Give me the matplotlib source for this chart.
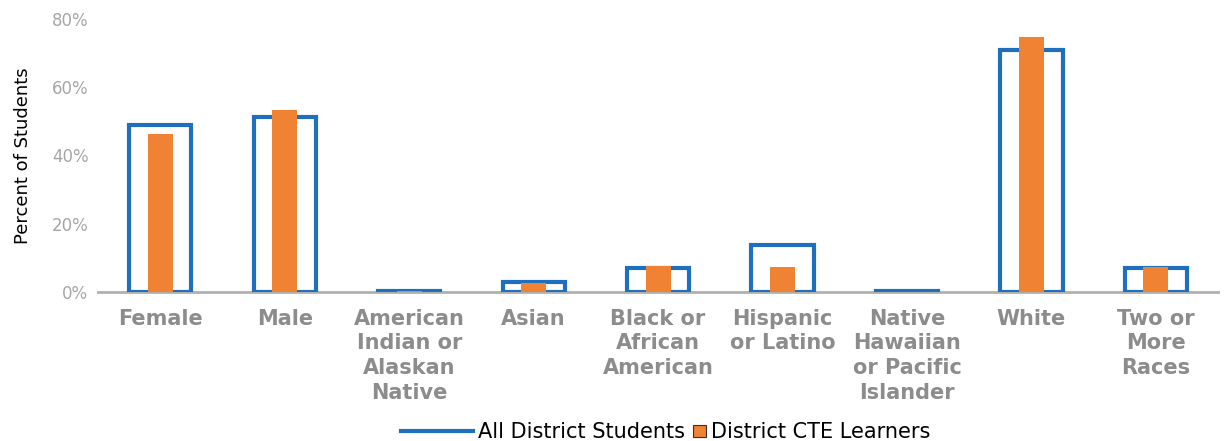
import numpy as np
import matplotlib.pyplot as plt
from matplotlib.patches import Rectangle
from matplotlib.lines import Line2D
from matplotlib.legend_handler import HandlerBase

categories = ['Female', 'Male', 'American\nIndian or\nAlaskan\nNative', 'Asian',
              'Black or\nAfrican\nAmerican', 'Hispanic\nor Latino',
              'Native\nHawaiian\nor Pacific\nIslander', 'White', 'Two or\nMore\nRaces']
all_students = [49.0, 51.3, 0.3, 2.8, 7.1, 13.8, 0.2, 71.0, 6.9]
cte_learners = [46.3, 53.3, 0.2, 2.5, 7.5, 7.4, 0.1, 74.7, 7.4]

blue = '#1f6fbf'
orange = '#ef8233'

fig = plt.figure(figsize=(12.27, 4.41), dpi=100)
ax = fig.add_axes([0.08, 0.338, 0.9127, 0.619])

x = np.arange(len(categories))
ax.bar(x, all_students, width=0.5, facecolor='white', edgecolor=blue, linewidth=3, zorder=2)
ax.bar(x, cte_learners, width=0.2, color=orange, zorder=3)

ax.set_xlim(-0.5, len(categories) - 0.5)
ax.set_ylim(0, 80)
ax.set_yticks([0, 20, 40, 60, 80])
ax.set_yticklabels(['0%', '20%', '40%', '60%', '80%'], color='#a6a6a6', fontsize=12)
ax.set_xticks(x)
ax.set_xticklabels(categories, color='#8c8c8c', fontsize=15, fontweight='bold', linespacing=1.3)
ax.tick_params(axis='both', length=0)
ax.tick_params(axis='x', pad=12)
ax.tick_params(axis='y', pad=7)
ax.set_ylabel('Percent of Students', fontsize=13, labelpad=14)

for s in ['top', 'right', 'left']:
    ax.spines[s].set_visible(False)
ax.spines['bottom'].set_color('#b0b0b0')
ax.spines['bottom'].set_linewidth(2)
ax.spines['bottom'].set_zorder(1)


# long line reaching to the left of a short handle box
class LongLine(HandlerBase):
    def create_artists(self, legend, orig_handle, xdescent, ydescent, width, height, fontsize, trans):
        y = height / 2 - ydescent
        ln = Line2D([-xdescent - 3.3 * width, -xdescent + width], [y, y], color=blue, lw=3)
        ln.set_transform(trans)
        return [ln]


class SquarePatch(HandlerBase):
    def create_artists(self, legend, orig_handle, xdescent, ydescent, width, height, fontsize, trans):
        size = height * 0.85
        r = Rectangle((-xdescent + width - size, -ydescent + (height - size) / 2), size, size,
                      facecolor=orange, edgecolor='#333333', linewidth=0.8)
        r.set_transform(trans)
        return [r]


handles = [Line2D([0], [0], color=blue), Rectangle((0, 0), 1, 1)]
fig.legend(handles, ['All District Students', 'District CTE Learners'],
           loc='lower center', bbox_to_anchor=(0.565, -0.045), ncol=2, frameon=False,
           fontsize=15, handlelength=0.8, handletextpad=0.25, columnspacing=0.2,
           handler_map={Line2D: LongLine(), Rectangle: SquarePatch()})

fig.savefig('out.png', dpi=100)
